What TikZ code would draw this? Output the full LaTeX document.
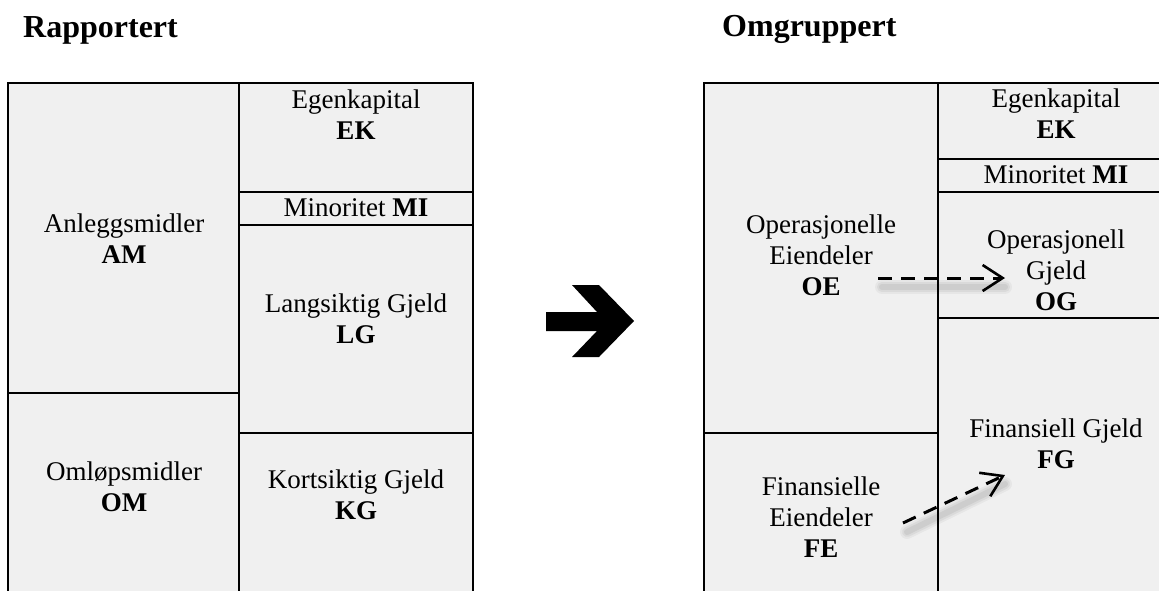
\documentclass[tikz,border=0pt]{standalone}
\usepackage{fontspec}
\setmainfont{Liberation Serif}
\usetikzlibrary{arrows.meta}
\definecolor{boxfill}{RGB}{240,240,240}
\tikzset{
  cell/.style={draw=black, fill=boxfill, line width=1.6pt},
  lbl/.style={anchor=base, inner sep=0pt, font=\fontsize{27}{31}\selectfont},
  ttl/.style={anchor=base west, inner sep=0pt, font=\fontsize{32}{36}\selectfont\bfseries},
  movearrow/.style={line width=3pt, dash pattern=on 14pt off 9pt, -{Straight Barb[length=20pt,width=26pt,line width=2.6pt]}},
  shadowline/.style={line width=10pt, black, opacity=0.06, line cap=round},
}
\newcommand{\lines}[1]{\begin{tabular}[t]{@{}c@{}}#1\end{tabular}}
\begin{document}
\begin{tikzpicture}[x=1pt,y=-1pt]
\useasboundingbox (0,0) rectangle (1159,590);
\clip (0,0) rectangle (1159,590);
\fill[white] (0,0) rectangle (1159,590);
% titles
\node[ttl] (t1) at (23,37) {Rapportert};
\node[ttl] (t2) at (722,36) {Omgruppert};
% left block
\draw[cell] (8,83) rectangle (239,393);
\draw[cell] (8,393) rectangle (239,600);
\draw[cell] (239,83) rectangle (473,192);
\draw[cell] (239,192) rectangle (473,225);
\draw[cell] (239,225) rectangle (473,433);
\draw[cell] (239,433) rectangle (473,600);
\node[lbl] (am) at (124,232) {\lines{Anleggsmidler\\\textbf{AM}}};
\node[lbl] (om) at (124,480) {\lines{Omløpsmidler\\\textbf{OM}}};
\node[lbl] (ek1) at (356,108) {\lines{Egenkapital\\\textbf{EK}}};
\node[lbl] (mi1) at (356,216) {Minoritet \textbf{MI}};
\node[lbl] (lg) at (356,312) {\lines{Langsiktig Gjeld\\\textbf{LG}}};
\node[lbl] (kg) at (356,488) {\lines{Kortsiktig Gjeld\\\textbf{KG}}};
% big arrow
\fill[black] (546,312) -- (597,312) -- (572,285) -- (599,285) -- (634,321)
  -- (599,357) -- (572,357) -- (597,331) -- (546,331) -- cycle;
% right block
\draw[cell] (704,83) rectangle (938,433);
\draw[cell] (704,433) rectangle (938,600);
\draw[cell] (938,83) rectangle (1180,159);
\draw[cell] (938,159) rectangle (1180,192);
\draw[cell] (938,192) rectangle (1180,318);
\draw[cell] (938,318) rectangle (1180,600);
\node[lbl] (oe) at (821,233) {\lines{Operasjonelle\\Eiendeler\\\textbf{OE}}};
\node[lbl] (fe) at (821,495) {\lines{Finansielle\\Eiendeler\\\textbf{FE}}};
\node[lbl] (ek2) at (1056,107) {\lines{Egenkapital\\\textbf{EK}}};
\node[lbl] (mi2) at (1056,183) {Minoritet \textbf{MI}};
\node[lbl] (og) at (1056,248) {\lines{Operasjonell\\Gjeld\\\textbf{OG}}};
\node[lbl] (fg) at (1056,437) {\lines{Finansiell Gjeld\\\textbf{FG}}};
% arrow end points
\coordinate (oeS) at (878,278);
\coordinate (ogE) at (1005,278);
\coordinate (feS) at (903,523);
\coordinate (fgE) at (1005,475);
\coordinate (oeSs) at (882,287);
\coordinate (ogEs) at (1005,287);
\coordinate (feSs) at (907,532);
\coordinate (fgEs) at (1005,484);
% shadows
\foreach \w/\o in {14pt/0.04,10pt/0.05,6pt/0.06}{
  \draw[shadowline, line width=\w, opacity=\o] (oeSs) -- (ogEs);
  \draw[shadowline, line width=\w, opacity=\o] (feSs) -- (fgEs);
}
% dashed arrows
\draw[movearrow] (oeS) -- (ogE);
\draw[movearrow] (feS) -- (fgE);
\end{tikzpicture}
\end{document}
